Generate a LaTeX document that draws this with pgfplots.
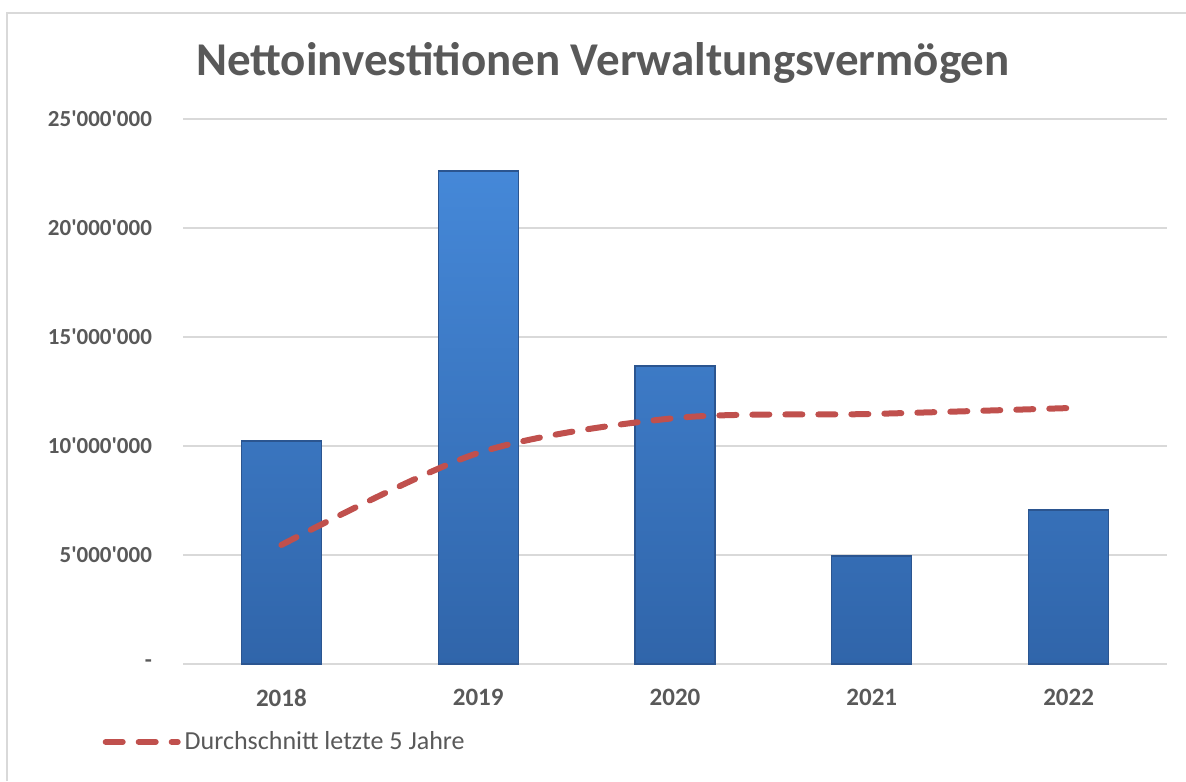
\documentclass[border=0pt]{standalone}
\usepackage{pgfplots}
\pgfplotsset{compat=1.18}
\usepackage{fontspec}
\setmainfont{Carlito}[Ligatures=TeXOff]
\definecolor{txtgray}{HTML}{595959}
\definecolor{gridgray}{HTML}{D9D9D9}
\definecolor{avgred}{HTML}{C0504D}
\definecolor{bartop}{HTML}{4588D8}
\definecolor{barbot}{HTML}{3065AA}
\definecolor{baredge}{HTML}{2B5590}
\begin{document}
\begin{tikzpicture}
\useasboundingbox (0pt,0pt) rectangle (593pt,390.5pt);
\draw[gridgray, line width=1.2pt] (3.5pt,0pt) -- (3.5pt,384pt) -- (593pt,384pt);
\node[font=\bfseries\fontsize{23.5}{26}\selectfont, text=txtgray] at (301.5pt,359pt) {Nettoinvestitionen Verwaltungsvermögen};
\begin{axis}[
  at={(91.5pt,58.5pt)}, anchor=south west,
  scale only axis, width=492pt, height=272.5pt,
  xmin=-0.5, xmax=4.5, ymin=0, ymax=25000000,
  axis line style={draw=none},
  xtick={0,1,2,3,4}, xticklabels={2018,2019,2020,2021,2022},
  ytick={0,5000000,10000000,15000000,20000000,25000000},
  yticklabels={-,5'000'000,10'000'000,15'000'000,20'000'000,25'000'000},
  scaled y ticks=false,
  ymajorgrids, major grid style={gridgray, line width=1pt},
  major tick length=0pt, tick style={draw=none},
  tick label style={text=txtgray},
  yticklabel style={xshift=-12pt, font=\bfseries\fontsize{11.5}{13}\selectfont},
  xticklabel style={yshift=-9pt, font=\bfseries\fontsize{12.5}{14}\selectfont},
  legend style={at={(-0.082,-0.143)}, anchor=west, draw=none, fill=none, inner sep=0pt,
    font=\fontsize{13}{15}\selectfont, text=txtgray},
  legend image code/.code={\draw[#1] (0pt,0pt) -- (36pt,0pt);},
  legend cell align=left,
  clip=false,
]
\addplot[ybar, bar width=40pt, draw=baredge, line width=0.6pt, top color=bartop, bottom color=barbot, forget plot]
  coordinates {(0,10230000) (1,22610000) (2,13670000) (3,4950000) (4,7060000)};
\addplot[avgred, line width=3pt, line cap=round, dash pattern=on 8.5pt off 8pt, smooth, tension=0.5]
  coordinates {(0,5460000) (1,9680000) (2,11280000) (3,11470000) (4,11740000)};
\addlegendentry{Durchschnitt letzte 5 Jahre}
\end{axis}
\end{tikzpicture}
\end{document}
